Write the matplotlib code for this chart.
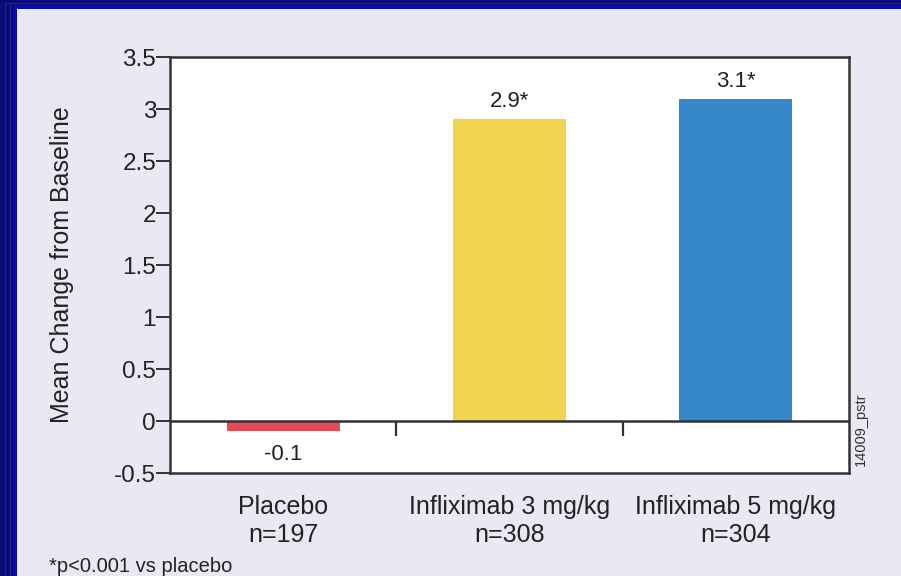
import matplotlib
matplotlib.use("Agg")
import matplotlib.pyplot as plt
from matplotlib.patches import Rectangle
from matplotlib.lines import Line2D

plt.rcParams['font.family'] = ['Liberation Sans', 'DejaVu Sans']

# Data
categories = ["Placebo\nn=197", "Infliximab 3 mg/kg\nn=308", "Infliximab 5 mg/kg\nn=304"]
values = [-0.1, 2.9, 3.1]
value_labels = ["-0.1", "2.9*", "3.1*"]
bar_colors = ["#E84A53", "#F2D54F", "#3788CB"]
yticks = [-0.5, 0, 0.5, 1, 1.5, 2, 2.5, 3, 3.5]
ytick_labels = ["-0.5", "0", "0.5", "1", "1.5", "2", "2.5", "3", "3.5"]
group_separators = [0.5, 1.5]

W, H = 901, 576
fig = plt.figure(figsize=(W / 100, H / 100), dpi=100)
fig.patch.set_facecolor("#0B0B78")

# Frame: navy border with a brighter inner edge, lavender panel
def px_rect(x0, y0, x1, y1, color, z):
    fig.patches.append(Rectangle((x0 / W, 1 - y1 / H), (x1 - x0) / W, (y1 - y0) / H,
                                 transform=fig.transFigure, facecolor=color,
                                 edgecolor="none", zorder=z))

px_rect(13, 6, W, H, "#0A0AB4", 0)
px_rect(17, 9, W, H, "#E9E9F3", 1)
for xl in (5, 10):
    fig.lines.append(Line2D([xl / W, xl / W], [0, 1 - 3 / H], transform=fig.transFigure,
                            color="#24248C", lw=0.7, zorder=0.5))
fig.lines.append(Line2D([5 / W, 1], [1 - 3 / H, 1 - 3 / H], transform=fig.transFigure,
                        color="#24248C", lw=0.7, zorder=0.5))

ax = fig.add_axes([170 / W, 1 - 473 / H, (849 - 170) / W, (473 - 57) / H])
ax.set_zorder(5)
ax.set_facecolor("white")

x = list(range(len(categories)))
ax.bar(x, values, width=0.5, color=bar_colors, zorder=2)

ax.set_xlim(-0.5, 2.5)
ax.set_ylim(-0.5, 3.5)

# zero line with group separator ticks
ax.axhline(0, color="#333333", lw=1.8, zorder=3)
ax.plot(group_separators, [0] * len(group_separators), linestyle="none",
        marker=3, markersize=11, markeredgewidth=1.6, color="#333333", zorder=3)

for xi, v, lab in zip(x, values, value_labels):
    if v >= 0:
        ax.annotate(lab, (xi, v), xytext=(0, 5), textcoords="offset points",
                    ha="center", va="bottom", fontsize=16, color="#222222")
    else:
        ax.annotate(lab, (xi, v), xytext=(0, -9), textcoords="offset points",
                    ha="center", va="top", fontsize=16, color="#222222")

ax.set_yticks(yticks)
ax.set_yticklabels(ytick_labels, fontsize=17.5, color="#222222")
ax.tick_params(axis="y", direction="out", length=10, width=1.4, pad=0, colors="#333333",
               labelcolor="#222222")
ax.set_xticks(x)
ax.set_xticklabels(categories, fontsize=18, color="#222222", linespacing=1.2)
ax.tick_params(axis="x", length=0, pad=16)

for s in ax.spines.values():
    s.set_color("#333333")
    s.set_linewidth(1.8)

ax.set_ylabel("Mean Change from Baseline", fontsize=18, color="#222222")
ax.yaxis.set_label_coords(-0.141, 0.5)

fig.text(861 / W, 1 - 429 / H, "14009_pstr", rotation=90, fontsize=10.5,
         ha="center", va="center", color="#333333", zorder=6)
fig.text(49 / W, 1 - 566 / H, "*p<0.001 vs placebo", fontsize=14.5, color="#222222",
         ha="left", va="center", zorder=6)

fig.savefig("out.png", dpi=100, facecolor=fig.get_facecolor())
